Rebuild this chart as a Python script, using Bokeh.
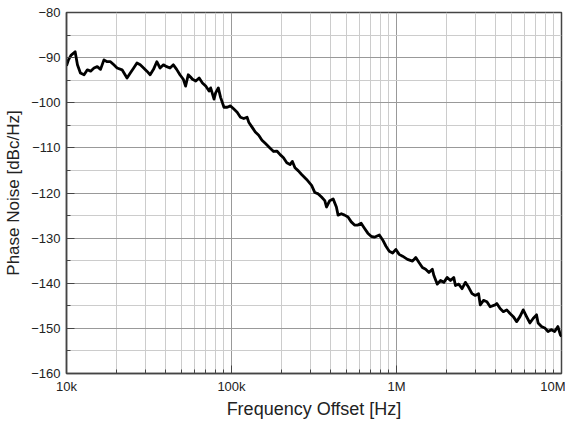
from bokeh.plotting import figure
from bokeh.models import FixedTicker, ColumnDataSource
from bokeh.embed import file_html
from bokeh.resources import INLINE

# Frequency offset in Hz
freq_hz = [
    10000, 10280, 10640, 11280, 11650, 12140, 12780, 13380, 14000, 14680,
    15360, 16080, 16860, 17640, 18470, 19360, 20260, 21720, 23270, 24360,
    25540, 26730, 27980, 29330, 30700, 32130, 33680, 35260, 36910, 38680,
    40490, 42390, 44430, 46510, 48690, 51040, 52680, 54690, 56450, 58030,
    60740, 63680, 66650, 69770, 73120, 74760, 78370, 80120, 83180, 85880,
    90010, 94220, 98630, 103370, 108200, 113300, 118700, 124300, 127200, 133200,
    139400, 146200, 153000, 160100, 171600, 179900, 188300, 197100, 206600, 216300,
    226400, 233900, 242500, 254200, 266100, 285200, 305800, 320100, 335600, 351200,
    367700, 376400, 393900, 412900, 432200, 442500, 463200, 484800, 508200, 531900,
    556700, 583500, 610700, 639300, 670100, 701500, 734300, 787000, 824900, 863600,
    903900, 947400, 991700, 1038000, 1088000, 1166000, 1250000, 1309000, 1369000, 1435000,
    1502000, 1573000, 1649000, 1685000, 1767000, 1849000, 1936000, 2029000, 2124000, 2223000,
    2276000, 2382000, 2497000, 2614000, 2737000, 2869000, 3002000, 3143000, 3218000, 3368000,
    3531000, 3695000, 3960000, 4055000, 4245000, 4443000, 4657000, 4875000, 5104000, 5349000,
    5600000, 5861000, 6142000, 6430000, 6730000, 7055000, 7214000, 7560000, 7914000, 8285000,
    8682000, 9089000, 9513000, 9835000, 10000000,
]

# Phase noise in dBc/Hz
phase_noise = [
    -91.8, -90.5, -89.5, -88.7, -91.6, -93.4, -93.8, -92.7, -93.0, -92.3,
    -92.0, -92.6, -90.5, -90.9, -90.9, -91.6, -92.3, -92.7, -94.5, -93.4,
    -92.3, -91.2, -91.6, -92.3, -93.0, -93.8, -92.6, -90.9, -92.3, -91.6,
    -92.0, -92.3, -91.6, -92.6, -93.8, -94.8, -96.3, -93.8, -94.3, -94.8,
    -95.2, -94.5, -95.6, -96.3, -97.4, -96.7, -99.2, -97.8, -96.7, -98.8,
    -101.0, -101.0, -100.7, -101.4, -102.1, -103.2, -103.5, -103.2, -104.3, -105.4,
    -106.5, -107.2, -108.3, -109.0, -110.1, -110.8, -110.7, -111.5, -112.2, -113.3,
    -113.7, -113.0, -114.4, -115.1, -115.9, -117.0, -118.3, -119.9, -120.2, -120.9,
    -121.7, -123.1, -121.7, -121.3, -123.1, -124.9, -124.6, -124.9, -125.3, -126.4,
    -127.1, -127.1, -126.7, -127.8, -128.9, -129.6, -129.8, -129.3, -130.4, -131.8,
    -132.9, -133.3, -132.5, -133.6, -134.0, -134.7, -135.1, -134.3, -135.4, -136.5,
    -136.9, -137.6, -136.9, -138.3, -140.2, -139.4, -139.8, -138.7, -139.4, -138.7,
    -140.5, -140.2, -141.2, -139.8, -140.9, -142.3, -142.7, -142.3, -144.8, -143.8,
    -144.1, -145.2, -144.8, -144.5, -145.6, -146.3, -145.9, -146.7, -147.4, -148.5,
    -147.4, -145.9, -147.4, -148.8, -147.8, -147.0, -148.8, -149.6, -149.9, -150.7,
    -150.3, -150.7, -149.6, -151.4, -151.8,
]

x_major_ticks = [1e4, 1e5, 1e6, 1e7]
x_tick_labels = ["10k", "100k", "1M", "10M"]
x_minor_ticks = [m * d for d in (1e4, 1e5, 1e6) for m in range(2, 10)]
y_major_ticks = [-160, -150, -140, -130, -120, -110, -100, -90, -80]
y_minor_ticks = [-155, -145, -135, -125, -115, -105, -95, -85]

FONT = "Liberation Sans"

p = figure(
    width=565, height=421,
    x_axis_type="log",
    x_range=(1e4, 1e7), y_range=(-160, -80),
    output_backend="svg", toolbar_location=None,
    min_border_left=66, min_border_right=4,
    min_border_top=12, min_border_bottom=48,
    background_fill_color="white", border_fill_color="white",
)

src = ColumnDataSource(dict(f=freq_hz, pn=phase_noise))
p.line("f", "pn", source=src, line_color="black", line_width=2.8,
       line_join="round")

p.xaxis.ticker = FixedTicker(ticks=x_major_ticks, minor_ticks=x_minor_ticks)
p.xaxis.major_label_overrides = {t: l for t, l in zip(x_major_ticks, x_tick_labels)}
p.yaxis.ticker = FixedTicker(ticks=y_major_ticks, minor_ticks=y_minor_ticks)

for ax in (p.xaxis[0], p.yaxis[0]):
    ax.axis_line_color = "#444444"
    ax.axis_line_width = 1.5
    ax.major_tick_in = 8
    ax.major_tick_out = 0
    ax.minor_tick_in = 4
    ax.minor_tick_out = 0
    ax.major_tick_line_color = "#444444"
    ax.minor_tick_line_color = "#444444"
    ax.major_label_text_font = FONT
    ax.major_label_text_font_size = "13px"
    ax.major_label_text_color = "#222222"
    ax.axis_label_text_font = FONT
    ax.axis_label_text_font_style = "normal"
    ax.axis_label_text_color = "#222222"

p.xaxis.axis_label = "Frequency Offset [Hz]"
p.yaxis.axis_label = "Phase Noise [dBc/Hz]"
p.xaxis.axis_label_text_font_size = "18px"
p.yaxis.axis_label_text_font_size = "17px"
p.xaxis.major_label_standoff = 5
p.xaxis.axis_label_standoff = 2
p.yaxis.major_label_standoff = 6
p.yaxis.axis_label_standoff = 5

for g in (p.xgrid[0], p.ygrid[0]):
    g.grid_line_color = "#999999"
    g.grid_line_width = 1
    g.minor_grid_line_color = "#cccccc"
    g.minor_grid_line_width = 1

p.outline_line_color = "#444444"
p.outline_line_width = 1.5
p.outline_line_alpha = 1.0

open("out.html", "w").write(file_html(p, INLINE))
